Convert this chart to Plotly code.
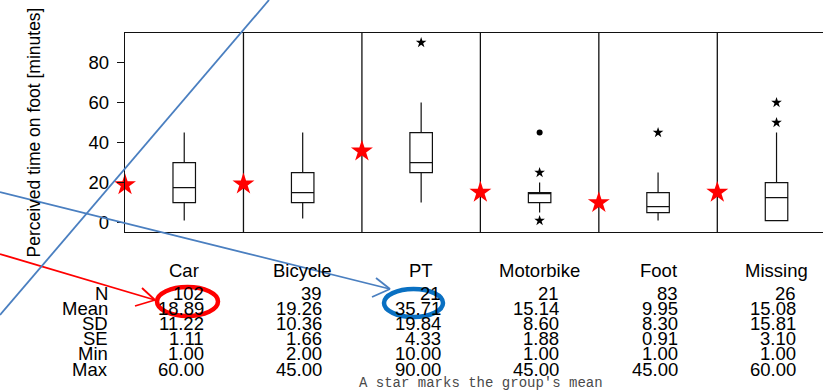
import plotly.graph_objects as go

# ---------------- data ----------------
categories = ["Car", "Bicycle", "PT", "Motorbike", "Foot", "Missing"]
q1 = [10, 10, 25, 10, 5, 1]
median = [17.5, 15, 30, 15, 8, 12.5]
q3 = [30, 25, 45, 15, 15, 20]
lower_whisker = [1, 2, 10, 5, 1, 1]
upper_whisker = [45, 45, 60, 20, 25, 45]
extreme_outliers = [[], [], [90], [25, 1], [45], [60, 50]]
mild_outliers = [[], [], [], [45], [], []]
means = [18.89, 19.26, 35.71, 15.14, 9.95, 15.08]

stat_labels = ["N", "Mean", "SD", "SE", "Min", "Max"]
stat_n = ["102", "39", "21", "21", "83", "26"]
stat_mean = ["18.89", "19.26", "35.71", "15.14", "9.95", "15.08"]
stat_sd = ["11.22", "10.36", "19.84", "8.60", "8.30", "15.81"]
stat_se = ["1.11", "1.66", "4.33", "1.88", "0.91", "3.10"]
stat_min = ["1.00", "2.00", "10.00", "1.00", "1.00", "1.00"]
stat_max = ["60.00", "45.00", "90.00", "45.00", "45.00", "60.00"]
stat_rows = [stat_n, stat_mean, stat_sd, stat_se, stat_min, stat_max]

y_ticks = [0, 20, 40, 60, 80]
y_title = "Perceived time on foot [minutes]"
footer = "A star marks the group's mean"

# ---------------- layout geometry ----------------
W, H = 823, 392
L, T, B = 125, 33, 160
PW, PH = W - L, H - T - B
PANEL = 118.46  # px per category


def px(xp):
    return (xp - L) / PW


def py(yp):
    return (H - B - yp) / PH


FONT = "Liberation Sans, Arial, sans-serif"
xs = list(range(len(categories)))

fig = go.Figure()

fig.add_trace(go.Box(
    x=xs, q1=q1, median=median, q3=q3,
    lowerfence=lower_whisker, upperfence=upper_whisker,
    width=0.19, whiskerwidth=0, boxpoints=False,
    fillcolor="white", line=dict(color="#111", width=1.2),
    showlegend=False, hoverinfo="skip",
))

ox, oy = [], []
for i, vals in enumerate(extreme_outliers):
    for v in vals:
        ox.append(i)
        oy.append(v)
fig.add_trace(go.Scatter(x=ox, y=oy, mode="markers",
                         marker=dict(symbol="star", size=8, color="black", line=dict(width=0)),
                         showlegend=False, cliponaxis=False))
dx, dy = [], []
for i, vals in enumerate(mild_outliers):
    for v in vals:
        dx.append(i)
        dy.append(v)
fig.add_trace(go.Scatter(x=dx, y=dy, mode="markers",
                         marker=dict(symbol="circle", size=6, color="black"),
                         showlegend=False))

fig.add_trace(go.Scatter(x=[i - 0.5 for i in xs], y=means, mode="markers",
                         marker=dict(symbol="star", size=16.5, color="red", line=dict(width=0)),
                         showlegend=False, cliponaxis=False))

shapes = []
# panel dividers
for i in xs[1:]:
    shapes.append(dict(type="line", xref="x", yref="paper", x0=i - 0.5, x1=i - 0.5,
                       y0=0, y1=1, line=dict(color="#111", width=1.3), layer="below"))

annotations = []
# category labels
for i, c in enumerate(categories):
    annotations.append(dict(x=i, y=py(270), xref="x", yref="paper", text=c,
                            showarrow=False, xanchor="center", yanchor="middle",
                            font=dict(family=FONT, size=18.5, color="black")))
row_y = [293, 308.2, 323.4, 338.6, 353.8, 369]
for r, lab in enumerate(stat_labels):
    annotations.append(dict(x=px(110), y=py(row_y[r]), xref="paper", yref="paper", text=lab,
                            showarrow=False, xanchor="right", yanchor="middle",
                            font=dict(family=FONT, size=18.5, color="black")))
    for i in xs:
        annotations.append(dict(x=i + 21.5 / PANEL, y=py(row_y[r]), xref="x", yref="paper",
                                text=stat_rows[r][i], showarrow=False,
                                xanchor="right", yanchor="middle",
                                font=dict(family=FONT, size=18.5, color="black")))
# y title
annotations.append(dict(x=px(33), y=0.5, xref="paper", yref="paper", text=y_title,
                        textangle=-90, showarrow=False, xanchor="center", yanchor="middle",
                        font=dict(family=FONT, size=17.5, color="black")))
# footer
annotations.append(dict(x=px(481), y=py(383), xref="paper", yref="paper", text=footer,
                        showarrow=False, xanchor="center", yanchor="middle",
                        font=dict(family="Liberation Mono, Courier New, monospace", size=14,
                                  color="#4a4a4a")))

# overlay annotations (ellipses and arrows), pixel positions
def pline(x0, y0, x1, y1, color, width):
    return dict(type="line", xref="paper", yref="paper", x0=px(x0), y0=py(y0),
                x1=px(x1), y1=py(y1), line=dict(color=color, width=width), layer="above")

RED = "#ff0000"
BLUE_E = "#0a70c2"
BLUE_L = "#4a7fc0"
shapes += [
    dict(type="circle", xref="paper", yref="paper", x0=px(157), x1=px(218),
         y0=py(287), y1=py(316), line=dict(color=RED, width=4.5), layer="above"),
    dict(type="circle", xref="paper", yref="paper", x0=px(384), x1=px(443),
         y0=py(289), y1=py(317), line=dict(color=BLUE_E, width=4.5), layer="above"),
    pline(0, 254, 155, 300, RED, 1.8),
    pline(142, 288, 155, 300, RED, 1.8),
    pline(135, 306, 155, 300, RED, 1.8),
    pline(0, 192, 390, 289, BLUE_L, 1.8),
    pline(376, 278, 390, 289, BLUE_L, 1.8),
    pline(372, 297, 390, 289, BLUE_L, 1.8),
    pline(0, 315, 269, 0, BLUE_L, 1.8),
]

fig.update_layout(
    width=W, height=H,
    margin=dict(l=L, r=0, t=T, b=B, pad=0),
    paper_bgcolor="white", plot_bgcolor="white",
    shapes=shapes, annotations=annotations,
    xaxis=dict(range=[-0.5, PW / PANEL - 0.5], showgrid=False, zeroline=False,
               showticklabels=False, ticks="", showline=True, mirror=True,
               linecolor="#111", linewidth=1.3),
    yaxis=dict(range=[-4.7, 94.8], showgrid=False, zeroline=False,
               tickvals=y_ticks, ticktext=[str(v) for v in y_ticks],
               ticks="outside", ticklen=7, tickcolor="#111", tickwidth=1.2,
               ticklabelstandoff=4,
               showline=True, linecolor="#111", linewidth=1.3,
               tickfont=dict(family=FONT, size=18.5, color="black")),
)

fig.write_html("out.html", config={"displayModeBar": False},
               post_script="document.body.style.margin='0';document.body.style.overflow='hidden';")
